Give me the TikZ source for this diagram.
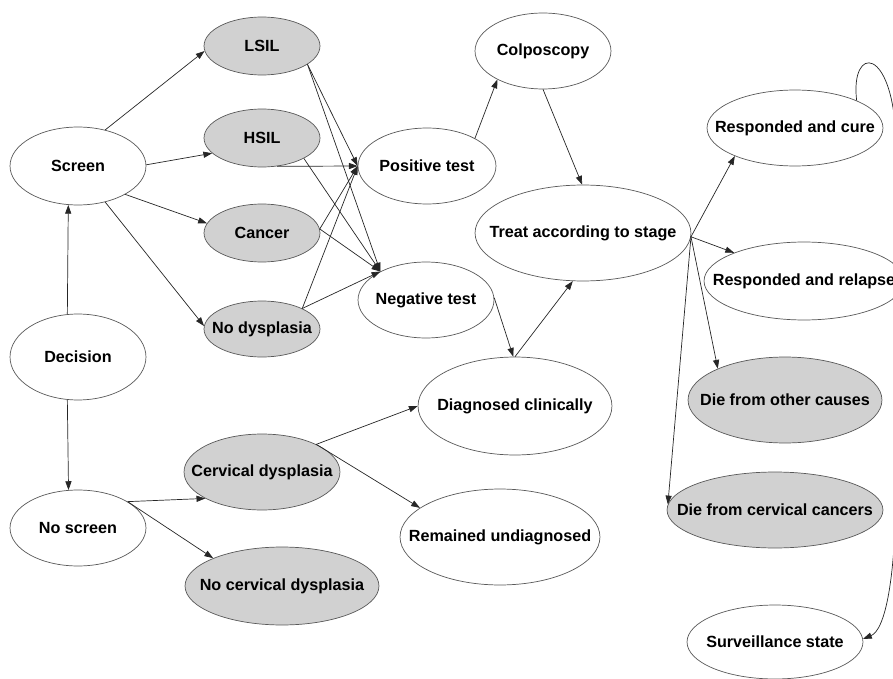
\documentclass[tikz,border=0pt]{standalone}
\usepackage{fontspec}
\setmainfont{Liberation Sans}
\usetikzlibrary{shapes.geometric}
\usetikzlibrary{arrows.meta}

\definecolor{stategray}{gray}{0.82}
\newcommand{\statetext}[1]{\makebox[0pt]{#1}}

\tikzset{
    state/.style={ellipse, draw=black!65, fill=white, inner sep=0pt,
        font=\fontsize{9.2}{11}\selectfont\bfseries},
    shaded/.style={state, fill=stategray},
    dims/.style 2 args={minimum width=#1*0.04cm, minimum height=#2*0.04cm},
    link/.style={-{Triangle[length=5pt,width=3.5pt]}, black!85}
}

\begin{document}
\begin{tikzpicture}[x=0.02cm, y=-0.02cm]
        \useasboundingbox (0,0) rectangle (893,679);
        % decision tree
        \node [state, dims={68}{39}] (screen) at (78,166) {\statetext{Screen}};
        \node [state, dims={68}{43}] (decision) at (78,357) {\statetext{Decision}};
        \node [state, dims={68}{38}] (noscreen) at (78,528) {\statetext{No screen}};
        \node [shaded, dims={58}{29}] (lsil) at (262,46) {\statetext{LSIL}};
        \node [shaded, dims={58}{29}] (hsil) at (262,138) {\statetext{HSIL}};
        \node [shaded, dims={58}{29}] (cancer) at (262,233) {\statetext{Cancer}};
        \node [shaded, dims={58}{28}] (nodys) at (262,329) {\statetext{No dysplasia}};
        \node [state, dims={69}{38}] (pos) at (427,166) {\statetext{Positive test}};
        \node [state, dims={68}{38}] (neg) at (426,300) {\statetext{Negative test}};
        \node [state, dims={68}{38}] (colpo) at (543,51) {\statetext{Colposcopy}};
        \node [state, dims={108}{48}] (treat) at (583,233) {\statetext{Treat according to stage}};
        \node [state, dims={97}{49}] (diag) at (515,406) {\statetext{Diagnosed clinically}};
        \node [state, dims={100}{48}] (undiag) at (500,537) {\statetext{Remained undiagnosed}};
        \node [shaded, dims={78}{38}] (cervdys) at (262,472) {\statetext{Cervical dysplasia}};
        \node [shaded, dims={97}{39}] (nocervdys) at (282,586) {\statetext{No cervical dysplasia}};
        % outcomes
        \node [state, dims={88}{38}] (cure) at (795,128) {\statetext{Responded and cure}};
        \node [state, dims={100}{39}] (relapse) at (804,281) {\statetext{Responded and relapse}};
        \node [shaded, dims={97}{43}] (dieother) at (785,400) {\statetext{Die from other causes}};
        \node [shaded, dims={108}{38}] (diecerv) at (775,510) {\statetext{Die from cervical cancers}};
        \node [state, dims={88}{37}] (surv) at (775,642) {\statetext{Surveillance state}};
        % arrows
        \draw [link] (decision.104) -- (screen.256);
        \draw [link] (decision.256) -- (noscreen.104);
        \draw [link] (screen.53) -- (lsil.185);
        \draw [link] (screen.1) -- (hsil.197);
        \draw [link] (screen.-31) -- (cancer.170);
        \draw [link] (screen.-53) -- (nodys.177);
        \foreach \t in {pos.180, neg.148}
            \draw [link] (lsil.-22) -- (\t);
        \draw [link] (hsil.-62) -- (pos.180);
        \draw [link] (hsil.-26) -- (neg.148);
        \foreach \t in {pos.180, neg.148}
            \draw [link] (cancer.4) -- (\t);
        \foreach \t in {pos.180, neg.148}
            \draw [link] (nodys.27) -- (\t);
        \draw [link] (pos.30) -- (colpo.212);
        \draw [link] (colpo.270) -- (treat.91);
        \draw [link] (neg.2) -- (diag.92);
        \draw [link] (diag.90) -- (treat.258);
        \foreach \t in {diag.180, undiag.160}
            \draw [link] (cervdys.27) -- (\t);
        \foreach \t in {cervdys.205, nocervdys.158}
            \draw [link] (noscreen.28) -- (\t);
        \foreach \t in {cure.205, relapse.158, dieother.155, diecerv.177}
            \draw [link] (treat.-2) -- (\t);
        \draw [link] (cure.24) .. controls (850,45) and (893,45) .. (896,140)
            -- (896,480) .. controls (896,580) and (885,630) .. (surv.2);
    \end{tikzpicture}
\end{document}
